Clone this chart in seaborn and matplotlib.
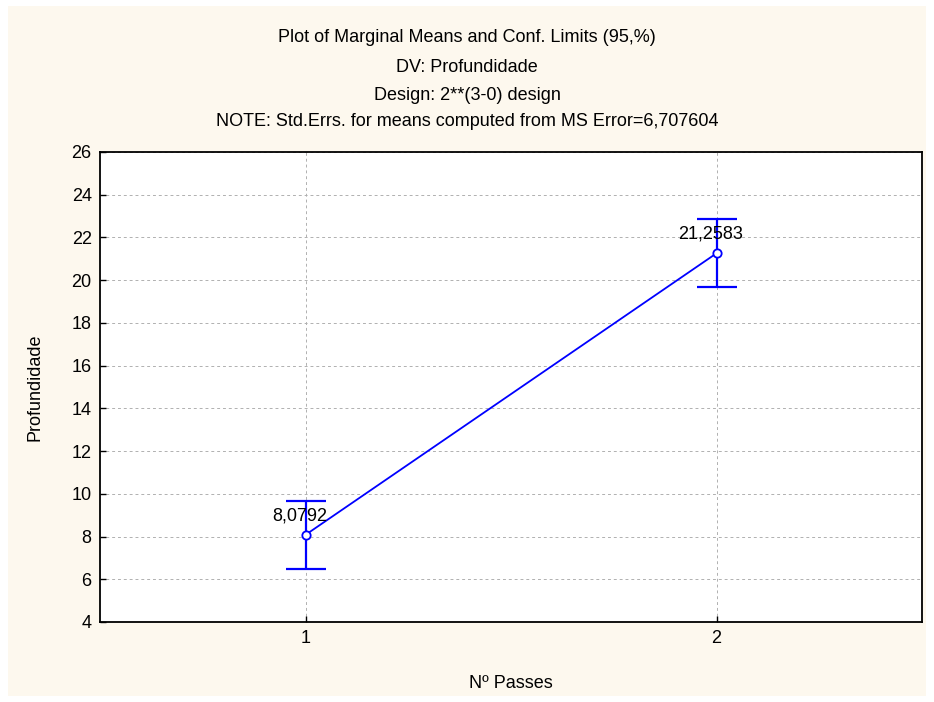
import matplotlib
matplotlib.use("Agg")
import matplotlib.pyplot as plt
import seaborn as sns
import pandas as pd
from matplotlib.patches import Rectangle

# Data
passes = [1, 2]
means = [8.0792, 21.2583]
ci_half = [1.60, 1.59]
labels = ["8,0792", "21,2583"]
yticks = [4, 6, 8, 10, 12, 14, 16, 18, 20, 22, 24, 26]
titles = [
    "Plot of Marginal Means and Conf. Limits (95,%)",
    "DV: Profundidade",
    "Design: 2**(3-0) design",
    "NOTE: Std.Errs. for means computed from MS Error=6,707604",
]

sns.set_theme(style="white")
plt.rcParams["font.family"] = ["Liberation Sans", "DejaVu Sans"]
plt.rcParams["text.color"] = "black"
plt.rcParams["axes.labelcolor"] = "black"

FS = 13

W, H = 934, 702
fig = plt.figure(figsize=(W / 100, H / 100), dpi=100)
fig.patch.set_facecolor("white")
cream = "#FDF8EE"
fig.patches.append(Rectangle((8 / W, 1 - 696 / H), (926 - 8) / W, (696 - 6) / H,
                             transform=fig.transFigure, facecolor=cream,
                             edgecolor="none", zorder=-10))

ax = fig.add_axes([100 / W, 1 - 622 / H, (922 - 100) / W, (622 - 152) / H])
ax.set_facecolor("white")

df = pd.DataFrame({"x": passes, "y": means})
ax.errorbar(passes, means, yerr=ci_half, fmt="none", ecolor="#0000FF",
            elinewidth=1.6, capsize=14.5, capthick=1.6, zorder=3)
sns.lineplot(data=df, x="x", y="y", ax=ax, color="#0000FF", linewidth=1.3,
             marker="o", markersize=6, markerfacecolor="white",
             markeredgecolor="#0000FF", markeredgewidth=1.3, zorder=4)

for xv, yv, lab in zip(passes, means, labels):
    ax.text(xv - 0.015, yv + 0.9, lab, ha="center", va="center",
            fontsize=FS, color="black", zorder=5)

ax.set_xlim(0.5, 2.5)
ax.set_ylim(4, 26)
ax.set_xticks(passes)
ax.set_xticklabels([str(p) for p in passes])
ax.set_yticks(yticks)
ax.grid(True, color="#B0B0B0", linestyle=(0, (3, 3)), linewidth=0.7)
ax.set_axisbelow(True)
for s in ax.spines.values():
    s.set_color("black")
    s.set_linewidth(1.3)
ax.tick_params(axis="both", direction="in", length=4, width=1, colors="black",
               labelsize=FS, pad=6, left=True, bottom=True)
ax.set_xlabel("Nº Passes", fontsize=FS, labelpad=20)
ax.set_ylabel("Profundidade", fontsize=FS, labelpad=20)

ys = [37, 67, 95, 122]
for t, yy in zip(titles, ys):
    fig.text(0.5 - 0.0 / W, 1 - yy / H, t, ha="center", va="center", fontsize=FS)

fig.savefig("out.png", dpi=100, facecolor=fig.get_facecolor())
